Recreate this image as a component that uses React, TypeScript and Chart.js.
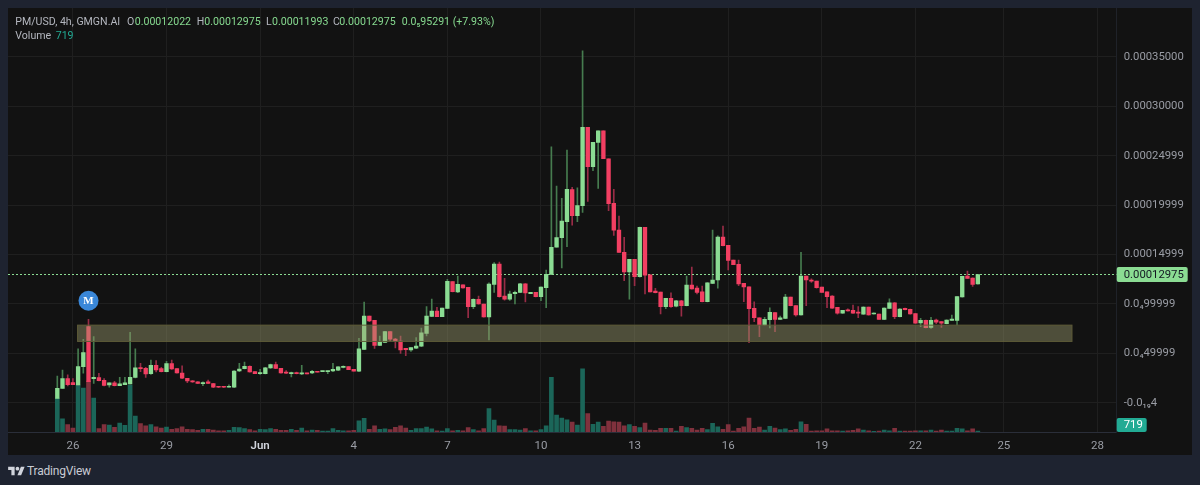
import React, { useEffect, useRef } from "react";
import { Chart, registerables } from "chart.js";

Chart.register(...registerables);

// prices are in millionths of a USD, volumes in thousands
const opens = [
  4.4, 14.5, 24.4, 20.3, 18, 36.5, 77, 24.4, 25.4, 22.7, 18, 20, 17.3, 18.3, 19, 25.7, 35.2, 34.8, 29.4, 37.9,
  34.5, 31.4, 39.5, 34.5, 30.1, 24.7, 22, 21, 19.3, 21, 19.3, 16.6, 16.6, 15.6, 15.6, 32.1, 34.5, 36.8, 31.4, 29.4,
  29.4, 35.2, 38.5, 34.8, 31.1, 29.4, 30.1, 29.1, 30.1, 30.1, 31.8, 31.4, 31.4, 32.1, 32.8, 35.8, 36.5, 33.8, 31.8, 54,
  87.7, 83.4, 58.1, 61.1, 71.9, 64.5, 62.4, 55.1, 53.3, 55.1, 57.1, 70.2, 87.4, 92.8, 87, 95.5, 122.5, 112, 119.4, 116.8,
  97.2, 104.6, 99.9, 86.7, 119.8, 140.4, 108, 104.9, 110.3, 111.7, 120.4, 110.3, 111.7, 107.3, 116.4, 129.9, 157.3, 167, 183.2, 215.6,
  189.2, 199.4, 278.7, 238.8, 263.5, 275.3, 246.9, 201.8, 174.8, 152.2, 132.3, 145.1, 127.5, 177.5, 129.5, 113, 112, 97.2, 105.7, 97.6,
  103.2, 98.2, 119.1, 116.1, 112.3, 102.2, 120.8, 124.2, 167.7, 159.3, 144.4, 140.1, 120.8, 117.4, 95.5, 86, 78.6, 84, 91.1, 84.4,
  85.4, 107, 98.2, 88.8, 128.2, 124.2, 123.2, 117.1, 112.3, 108, 96.5, 90.5, 94.1, 93.5, 91.8, 89.5, 96.8, 89.8, 89.8, 84.4,
  95.5, 101.2, 87, 95.5, 94.5, 90.1, 80.7, 83.4, 76.3, 83.7, 82, 79.9, 83.4, 83.4, 107, 128.2, 126.2, 120.22,
];
const highs = [
  27, 33.1, 28.1, 24.4, 54.4, 64.2, 84.4, 66.9, 29.8, 24.4, 20, 21.7, 25.7, 25.7, 71.2, 54.4, 39.9, 35.8, 43.2, 42.6,
  35.8, 41.9, 43.2, 34.5, 37.2, 24.7, 22.3, 21.3, 21, 23, 19.6, 16.6, 16.6, 18, 32.5, 39.9, 41.2, 37.2, 31.4, 33.8,
  35.8, 39.2, 41.2, 34.8, 32.5, 31.1, 31.1, 37.9, 30.1, 32.8, 31.8, 32.1, 32.1, 39.9, 36.5, 37.2, 36.5, 33.8, 65.2, 101.9,
  87.7, 83.4, 67.5, 72.2, 71.9, 65.2, 67.5, 55.1, 55.7, 65.8, 75.6, 97.2, 104.9, 96.5, 95.8, 124.9, 122.5, 128.2, 119.4, 116.8,
  105.2, 108, 99.9, 121.4, 141.7, 142.4, 125.9, 113, 113, 120.7, 120.6, 111.7, 111.7, 117.4, 134.3, 259, 219.3, 206.9, 255.7, 218,
  217.6, 356.2, 278.7, 263.5, 275.3, 275.3, 246.9, 216, 188.9, 167.4, 145.1, 145.1, 177.8, 177.5, 129.5, 115.8, 112, 105.7, 111.3, 103.5,
  103.5, 128.2, 137.3, 118.1, 118.1, 121.6, 174.8, 169, 178.8, 159.3, 144.4, 144.4, 120.8, 117.4, 102.2, 86, 86.4, 96.1, 91.1, 87.7,
  109.7, 107, 98.2, 152.2, 128.2, 125.5, 123.2, 117.1, 112.3, 108.4, 96.5, 93.5, 95.1, 98.9, 97.2, 97, 96.8, 91, 89.8, 96,
  105.2, 101.4, 95.3, 95.7, 94.7, 90.3, 85.4, 83.6, 86.4, 84.7, 82.2, 83.9, 88.8, 107.5, 128.1, 133.3, 126.4, 129.75,
];
const lows = [
  4.4, 14.5, 16.9, 18.3, 18, 29.8, 21.3, 19.6, 22, 16.9, 15.6, 16.9, 17.3, 18.3, 19, 25, 31.4, 25.7, 28.7, 31.1,
  31.1, 31.1, 33.8, 29.8, 24.4, 20.3, 20.6, 19.3, 17.3, 19.3, 15.3, 15.3, 15.3, 15.6, 15.3, 31.4, 34.1, 30.8, 29.4, 28.7,
  29.1, 34.8, 34.5, 29.8, 29.4, 26, 29.1, 28.4, 29.1, 29.4, 30.8, 31.4, 29.4, 31.4, 32.5, 35.2, 33.5, 31.8, 31.4, 53.7,
  82, 55, 57.7, 60.8, 62.4, 55.4, 50, 47.6, 52, 54.6, 56.7, 67.5, 87, 87, 87, 95.1, 112, 111.3, 116, 86,
  95.1, 99.6, 86.5, 63.5, 111.7, 106.7, 103.9, 103.6, 99.9, 111.4, 101.9, 110.3, 107, 103.2, 96.1, 129.9, 157.3, 136.3, 157.9, 179.8,
  183.2, 192.7, 203.8, 234.8, 217, 246.9, 194.3, 169.4, 152, 123.5, 104.9, 118.4, 127, 110, 112, 111, 89.8, 95.1, 96.5, 97,
  87.7, 98, 114.8, 110, 102, 102, 120.4, 115.8, 158.6, 134.3, 139.7, 118.4, 102.2, 60.7, 82, 66.8, 78.4, 75.6, 71.9, 84,
  85, 98, 87.7, 88.6, 98.2, 121.8, 116, 111.7, 96.1, 95.5, 89.5, 90.3, 92.6, 90.3, 86, 89.3, 88.6, 89.6, 84.4, 84,
  95.5, 85, 86.8, 94, 89.6, 80.2, 76.9, 75.7, 75.3, 79.9, 76.3, 79.7, 83.2, 78.6, 106.8, 125.7, 117.8, 119.93,
];
const closes = [
  14.5, 24.4, 18.3, 18.3, 36.5, 50.7, 21.3, 25.7, 22.3, 17.6, 20, 17.3, 19, 20, 25.7, 35.2, 34.5, 29.1, 37.9, 33.1,
  31.4, 39.5, 34.1, 30.1, 24.7, 22, 21, 19.6, 20.3, 19.6, 15.6, 15.6, 15.6, 16.6, 32.1, 34.1, 36.8, 31.1, 29.4, 30.4,
  35.2, 38.5, 34.8, 30.1, 29.8, 30.1, 29.4, 29.8, 29.1, 31.8, 30.8, 32.1, 32.1, 33.8, 36.2, 36.8, 33.5, 31.8, 54.4, 87.7,
  82.7, 58.1, 61.4, 71.9, 64.2, 62.1, 53.3, 53.6, 55.7, 57.4, 70.8, 87.7, 92.8, 87, 95.8, 122.9, 112.3, 119.8, 116.1, 97.2,
  104.6, 99.9, 86.7, 120.1, 140.4, 107.3, 104.9, 110, 111.7, 120.4, 111, 111.7, 107.3, 117.1, 129.9, 157.3, 167, 183.9, 216, 189.2,
  199.4, 278.7, 238.8, 263.5, 275.3, 246.9, 201.4, 174.5, 152.2, 132.3, 145.1, 127.5, 177.5, 129.2, 112, 111.3, 97.2, 105.7, 97.2, 103.2,
  98.2, 119.1, 115.1, 111.7, 102.2, 121.4, 124.2, 167.7, 158.9, 144.1, 139.7, 120.1, 117.1, 95.1, 86, 78.6, 84.4, 91.5, 84.4, 86,
  107, 98.2, 88.8, 128.2, 124.2, 122.9, 116.4, 111.7, 107.3, 95.8, 90.5, 93.5, 92.8, 90.5, 90.5, 96.8, 88.8, 90.8, 84.4, 95.8,
  101.2, 87, 94.8, 94.1, 89.8, 80.4, 83.4, 75.9, 83.4, 81.4, 80.4, 83.7, 84.7, 107.3, 127.9, 125.9, 119.8, 129.75,
];
const volumes = [
  24.4, 9.4, 5.3, 2.9, 33.8, 31.7, 36.7, 24.5, 2.4, 5.3, 5, 3.4, 6.5, 4.8, 33.8, 11.5, 6, 4.5, 5.3, 3.8,
  2.9, 3.6, 1.9, 2.4, 3.8, 1.9, 1.7, 1.2, 1.9, 1.9, 1.4, 0.9, 0.9, 1.2, 3.4, 3.1, 2.4, 1.7, 0.9, 1.9,
  1.7, 2.4, 1.9, 1.2, 1.2, 1.9, 1.2, 2.9, 0.9, 1.4, 1.2, 0.7, 0.7, 2.4, 1.2, 0.9, 0.9, 1.2, 8.1, 9.9,
  1.9, 4.5, 1.9, 2.2, 1.7, 3.4, 4.5, 2.9, 1.2, 2.4, 2.4, 3.6, 2.2, 0.9, 0.7, 2.4, 0.9, 1.2, 0.9, 3.1,
  1.7, 0.9, 2.4, 16.8, 8.6, 4.5, 4.3, 1.7, 1.7, 1.4, 2.4, 0.9, 0.9, 1.7, 4.5, 39.4, 12.2, 10, 8.8, 7.2,
  5, 45.4, 13.2, 5.5, 7.2, 4.1, 7.9, 7.4, 7.2, 4.5, 5.3, 4.1, 3.1, 6.5, 1.4, 1.2, 2.7, 2.7, 2.7, 0.7,
  4.1, 3.1, 2.7, 1.4, 2.7, 1.7, 6.3, 3.8, 1.9, 5.3, 0.7, 2.7, 3.8, 10.1, 2.7, 3.6, 1.4, 4.1, 2.9, 1.7,
  2.2, 1.2, 1.9, 7.4, 5.5, 0.7, 0.9, 0.9, 2.2, 0.9, 0.9, 0.7, 0.9, 1.2, 2.2, 1.4, 0.9, 0.5, 0.7, 1.4,
  0.9, 2.7, 0.7, 0.7, 0.7, 0.9, 0.9, 0.9, 1.4, 0.7, 1.4, 0.7, 0.7, 2.7, 2.2, 0.9, 2.2, 0.719,
];

const xTickValues = [3, 21, 39, 57, 75, 93, 111, 129, 147, 165, 182, 200];
const xTickLabels = ["26", "29", "Jun", "4", "7", "10", "13", "16", "19", "22", "25", "28"];
const yTickValues = [0, 50, 100, 150, 200, 250, 300, 350];
const yTickLabels = ["-0.0₁₉4", "0.0₄49999", "0.0₄99999", "0.00014999", "0.00019999", "0.00024999", "0.00030000", "0.00035000"];

const lastPrice = 129.75;
const lastPriceLabel = "0.00012975";
const lastVolumeLabel = "719";
const zoneLow = 62;
const zoneHigh = 78.5;
const zoneFrom = 3.9;
const zoneTo = 195.1;
const markerIndex = 6;
const markerPrice = 103.2;

const GREEN = "#8bdc93";
const RED = "#f23f62";
const GREEN_WICK = "#467c4f";
const RED_WICK = "#982c46";
const GREEN_VOL = "#1b6659";
const RED_VOL = "#80313d";
const FONT = "Roboto, 'Noto Sans', sans-serif";

const indices = opens.map((_, i) => i);
const isUp = (i: number) => closes[i] >= opens[i];

const overlayPlugin = {
  id: "overlay",
  afterDatasetsDraw(chart: any) {
    const { ctx, scales, chartArea } = chart;
    const x = scales.x;
    const y = scales.y;
    const vol = scales.vol;
    ctx.save();

    // the drawn rectangle sits on top of the candles
    const zx = x.getPixelForValue(zoneFrom);
    const zw = x.getPixelForValue(zoneTo) - zx;
    const zy = y.getPixelForValue(zoneHigh);
    const zh = y.getPixelForValue(zoneLow) - zy;
    ctx.fillStyle = "rgba(158,158,112,0.43)";
    ctx.fillRect(zx, zy, zw, zh);
    ctx.strokeStyle = "#5e5b38";
    ctx.lineWidth = 1;
    ctx.strokeRect(zx, zy, zw, zh);

    // earnings style marker
    const mx = x.getPixelForValue(markerIndex);
    const my = y.getPixelForValue(markerPrice);
    ctx.fillStyle = "#3a87d8";
    ctx.beginPath();
    ctx.arc(mx, my, 10, 0, Math.PI * 2);
    ctx.fill();
    ctx.fillStyle = "#ffffff";
    ctx.font = "bold 11px 'Liberation Serif', serif";
    ctx.textAlign = "center";
    ctx.textBaseline = "middle";
    ctx.fillText("M", mx, my + 0.5);

    // last price and volume tags on the axis
    const right = chartArea.right;
    const py = y.getPixelForValue(lastPrice);
    ctx.fillStyle = GREEN;
    ctx.beginPath();
    ctx.roundRect(right, py - 7.5, 71, 15, 2);
    ctx.fill();
    ctx.fillStyle = "#131722";
    ctx.font = `11.3px ${FONT}`;
    ctx.textAlign = "left";
    ctx.fillText(lastPriceLabel, right + 7, py + 0.5);

    const vy = vol.getPixelForValue(0);
    ctx.fillStyle = "#22ab94";
    ctx.beginPath();
    ctx.roundRect(right, vy - 14, 30, 14, 2);
    ctx.fill();
    ctx.fillStyle = "#ffffff";
    ctx.fillText(lastVolumeLabel, right + 7, vy - 6.5);
    ctx.restore();
  },
};

const headerItems = [
  { left: 7.3, color: "#b4b7bf", text: "PM/USD, 4h, GMGN.AI" },
  { left: 119, color: "#b4b7bf", text: "O" },
  { left: 126.7, color: "#86d98f", text: "0.00012022" },
  { left: 188.7, color: "#b4b7bf", text: "H" },
  { left: 196.3, color: "#86d98f", text: "0.00012975" },
  { left: 258, color: "#b4b7bf", text: "L" },
  { left: 264, color: "#86d98f", text: "0.00011993" },
  { left: 325, color: "#b4b7bf", text: "C" },
  { left: 331.3, color: "#86d98f", text: "0.00012975" },
  { left: 393.7, color: "#86d98f", text: "0.0₅95291" },
  { left: 444.7, color: "#86d98f", text: "(+7.93%)" },
];

const App = () => {
  const canvasRef = useRef<HTMLCanvasElement | null>(null);
  const chartRef = useRef<Chart | null>(null);

  useEffect(() => {
    if (!canvasRef.current) return;
    const config: any = {
      type: "bar",
      data: {
        datasets: [
          {
            type: "line",
            data: [
              { x: -9.48, y: lastPrice },
              { x: 203.7, y: lastPrice },
            ],
            borderColor: GREEN,
            borderWidth: 1,
            borderDash: [2, 2],
            pointRadius: 0,
            yAxisID: "y",
            order: 2,
          },
          {
            data: indices.map((i) => ({ x: i, y: [opens[i], closes[i]] })),
            backgroundColor: indices.map((i) => (isUp(i) ? GREEN : RED)),
            barThickness: 3.7,
            minBarLength: 1,
            grouped: false,
            yAxisID: "y",
            order: 1,
          },
          {
            data: indices.map((i) => ({ x: i, y: [lows[i], highs[i]] })),
            backgroundColor: indices.map((i) => (isUp(i) ? GREEN_WICK : RED_WICK)),
            barThickness: 1,
            grouped: false,
            yAxisID: "y",
            order: 3,
          },
          {
            data: indices.map((i) => ({ x: i, y: volumes[i] })),
            backgroundColor: indices.map((i) => (isUp(i) ? GREEN_VOL : RED_VOL)),
            barThickness: 4,
            grouped: false,
            yAxisID: "vol",
            order: 4,
          },
        ],
      },
      options: {
        responsive: false,
        animation: false,
        layout: { padding: 0 },
        plugins: { legend: { display: false }, tooltip: { enabled: false }, title: { display: false } },
        scales: {
          x: {
            type: "linear",
            min: -9.48,
            max: 203.7,
            offset: false,
            grid: { color: "#1f1f1f", drawTicks: false, offset: false },
            border: { color: "#2a2e39" },
            ticks: {
              autoSkip: false,
              maxRotation: 0,
              padding: 7,
              color: (c: any) => (c.tick?.label === "Jun" ? "#d1d4dc" : "#9a9da5"),
              font: (c: any) => ({ family: FONT, size: 11.5, weight: c.tick?.label === "Jun" ? "600" : "400" }),
              callback: (v: number) => xTickLabels[xTickValues.indexOf(v)] ?? "",
            },
            afterBuildTicks: (s: any) => {
              s.ticks = xTickValues.map((value) => ({ value }));
            },
            afterFit: (s: any) => {
              s.height = 23;
              s.paddingLeft = 0;
              s.paddingRight = 0;
            },
          },
          y: {
            type: "linear",
            position: "right",
            min: -29.66,
            max: 399.5,
            grid: { color: "#1f1f1f", drawTicks: false },
            border: { color: "#1f2229" },
            ticks: {
              autoSkip: false,
              padding: 7,
              color: "#9a9da5",
              font: { family: FONT, size: 11.3 },
              callback: (v: number) => yTickLabels[yTickValues.indexOf(v)] ?? "",
            },
            afterBuildTicks: (s: any) => {
              s.ticks = yTickValues.map((value) => ({ value }));
            },
            afterFit: (s: any) => {
              s.width = 75.3;
              s.paddingTop = 0;
              s.paddingBottom = 0;
            },
          },
          vol: {
            type: "linear",
            display: false,
            min: 0,
            max: 305.3,
          },
        },
      },
      plugins: [overlayPlugin],
    };
    chartRef.current = new Chart(canvasRef.current, config);
    return () => {
      chartRef.current?.destroy();
    };
  }, []);

  return (
    <div style={{ position: "fixed", inset: 0, background: "#1e2330", overflow: "hidden", fontFamily: FONT }}>
      <div style={{ position: "absolute", left: 8, top: 8, width: 1184, height: 447, background: "#121212" }}>
        <canvas ref={canvasRef} width={1184} height={447} style={{ display: "block" }} />
        {headerItems.map((h) => (
          <span
            key={h.left}
            style={{ position: "absolute", left: h.left, top: 6.7, fontSize: 10.6, lineHeight: "14px", color: h.color, whiteSpace: "nowrap" }}
          >
            {h.text}
          </span>
        ))}
        <span style={{ position: "absolute", left: 7.3, top: 21, fontSize: 10.6, lineHeight: "14px", color: "#b4b7bf" }}>Volume</span>
        <span style={{ position: "absolute", left: 47.7, top: 21, fontSize: 10.6, lineHeight: "14px", color: "#22ab94" }}>719</span>
      </div>
      <svg style={{ position: "absolute", left: 8, top: 465 }} width={17} height={13} viewBox="0 0 36 28" fill="#d1d4dc">
        <path d="M14 22H7V11H0V4h14v18zM28 22h-8l7.5-18h8L28 22z" />
        <circle cx="20" cy="8" r="4" />
      </svg>
      <span style={{ position: "absolute", left: 27, top: 463, fontSize: 12, lineHeight: "16px", letterSpacing: -0.2, color: "#c9ccd4" }}>TradingView</span>
    </div>
  );
};

export default App;
